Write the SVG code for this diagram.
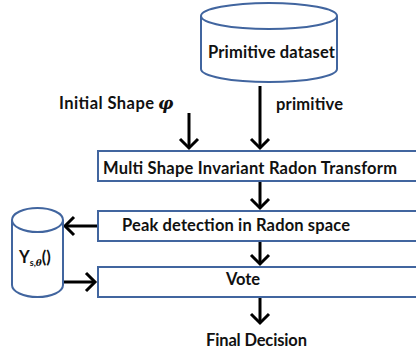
<svg xmlns="http://www.w3.org/2000/svg" width="416" height="352" viewBox="0 0 416 352">
<style>
.box{fill:#fff;stroke:#41659f;stroke-width:2}
.cyl{fill:#fff;stroke:#41659f;stroke-width:2}
.t{font-family:Lato,"Open Sans","Liberation Sans",sans-serif;font-weight:bold;font-size:16.5px;fill:#111}
.c{stroke:#000;stroke-width:3;fill:none;marker-end:url(#ah)}
</style>
<defs>
<marker id="ah" markerUnits="userSpaceOnUse" markerWidth="22" markerHeight="22" refX="11" refY="11" orient="auto" overflow="visible">
<path d="M2,2 L11,11 L2,20" fill="none" stroke="#000" stroke-width="3" stroke-linejoin="miter"/>
</marker>
</defs>
<rect width="416" height="352" fill="#fff"/>
<g id="connectors">
<path class="c" d="M260,86 V148"/>
<path class="c" d="M189,113 V148"/>
<path class="c" d="M260,182 V208"/>
<path class="c" d="M260,242 V264"/>
<path class="c" d="M260,298 V323"/>
<path class="c" d="M97,226 H65"/>
<path class="c" d="M64,282 H95"/>
</g>
<g id="primitive-dataset">
<path class="cyl" d="M201,16 V69 A68,13 0 0 0 337,69 V16"/>
<ellipse class="cyl" cx="269" cy="16" rx="68" ry="13"/>
<text class="t" x="208" y="58" textLength="127">Primitive dataset</text>
</g>
<g id="label-initial">
<text class="t" x="59" y="109" textLength="95">Initial Shape</text>
<text x="158" y="109" font-family="'DejaVu Serif',serif" font-style="italic" font-weight="bold" font-size="17" fill="#111">φ</text>
</g>
<g id="label-primitive">
<text class="t" x="276" y="110" textLength="67">primitive</text>
</g>
<g id="msirt">
<rect class="box" x="98" y="151" width="330" height="30"/>
<text class="t" x="103" y="174" textLength="294">Multi Shape Invariant Radon Transform</text>
</g>
<g id="peak">
<rect class="box" x="98" y="211" width="330" height="30"/>
<text class="t" x="122" y="231" textLength="228">Peak detection in Radon space</text>
</g>
<g id="vote">
<rect class="box" x="98" y="267" width="330" height="30"/>
<text class="t" x="226" y="285" textLength="34">Vote</text>
</g>
<g id="y-store">
<path class="cyl" d="M12,220 V285 A25.5,12 0 0 0 63,285 V220"/>
<ellipse class="cyl" cx="37.5" cy="220" rx="25.5" ry="12"/>
<text class="t" x="19" y="263">Y<tspan font-size="9" dy="3">s,</tspan><tspan font-size="9" font-family="'DejaVu Serif',serif" font-style="italic">θ</tspan><tspan dy="-3">()</tspan></text>
</g>
<g id="final">
<text class="t" x="206" y="346" textLength="101">Final Decision</text>
</g>
</svg>
